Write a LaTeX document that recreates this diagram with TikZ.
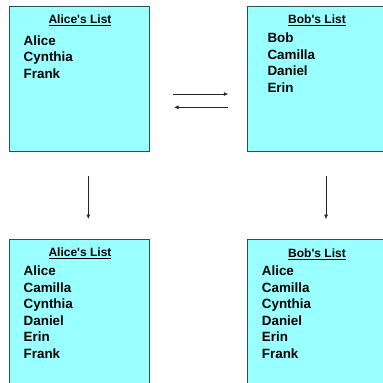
\documentclass[tikz,border=0pt]{standalone}
\usepackage{fontspec}
\setmainfont{Liberation Sans}
\usetikzlibrary{arrows.meta}
\definecolor{boxfill}{HTML}{99FFFF}
\definecolor{boxline}{HTML}{2F4F4F}
\tikzset{
  listbox/.style={draw=boxline, fill=boxfill, line width=0.9pt, anchor=north west, inner sep=0pt, outer sep=0pt},
  ttl/.style={anchor=base, inner sep=0pt, font=\fontsize{12}{12}\selectfont\bfseries},
  item/.style={anchor=base west, inner sep=0pt, font=\fontsize{13.4}{13.4}\selectfont\bfseries},
  conn/.style={draw=black!85, line width=0.7pt, -{Latex[length=4.5pt,width=4pt]}}
}
\begin{document}
\begin{tikzpicture}[x=1pt,y=-1pt]
\clip (0,0) rectangle (383,383);
\fill[white] (0,0) rectangle (383,383);
\node[listbox, minimum width=140pt, minimum height=145.7pt] (tl) at (9.3,6) {};
\node[listbox, minimum width=150pt, minimum height=145.7pt] (tr) at (247,6) {};
\node[listbox, minimum width=140pt, minimum height=160pt] (bl) at (9.3,239.3) {};
\node[listbox, minimum width=150pt, minimum height=160pt] (br) at (247,239.5) {};
% titles
\node[ttl] (tlt) at (80,23.6) {\underline{Alice\textquotesingle s List}};
\node[ttl] (trt) at (317,23.3) {\underline{Bob\textquotesingle s List}};
\node[ttl] (blt) at (80,256.7) {\underline{Alice\textquotesingle s List}};
\node[ttl] (brt) at (317,257.3) {\underline{Bob\textquotesingle s List}};
% items
\foreach \t [count=\i] in {Alice,Cynthia,Frank}
  \node[item] (tli\i) at (23.5,{45+(\i-1)*16.5}) {\t};
\foreach \t [count=\i] in {Bob,Camilla,Daniel,Erin}
  \node[item] (tri\i) at (267.3,{42.7+(\i-1)*16.5}) {\t};
\foreach \t [count=\i] in {Alice,Camilla,Cynthia,Daniel,Erin,Frank}
  \node[item] (bli\i) at (23.5,{275.7+(\i-1)*16.5}) {\t};
\foreach \t [count=\i] in {Alice,Camilla,Cynthia,Daniel,Erin,Frank}
  \node[item] (bri\i) at (261.7,{275.7+(\i-1)*16.5}) {\t};
% connectors
\draw[conn, shorten <=24pt, shorten >=18.7pt] ([yshift=-15.2pt]tl.east) -- ([yshift=-15.2pt]tl.east -| tr.west);
\draw[conn, shorten <=18.7pt, shorten >=24.7pt] ([yshift=-28.5pt]tl.east -| tr.west) -- ([yshift=-28.5pt]tl.east);
\draw[conn, shorten <=24.3pt, shorten >=20.3pt] ([xshift=79pt]tl.south west) -- ([xshift=79pt]bl.north west);
\draw[conn, shorten <=24.3pt, shorten >=20.3pt] ([xshift=79pt]tr.south west) -- ([xshift=79pt]br.north west);
\end{tikzpicture}
\end{document}
